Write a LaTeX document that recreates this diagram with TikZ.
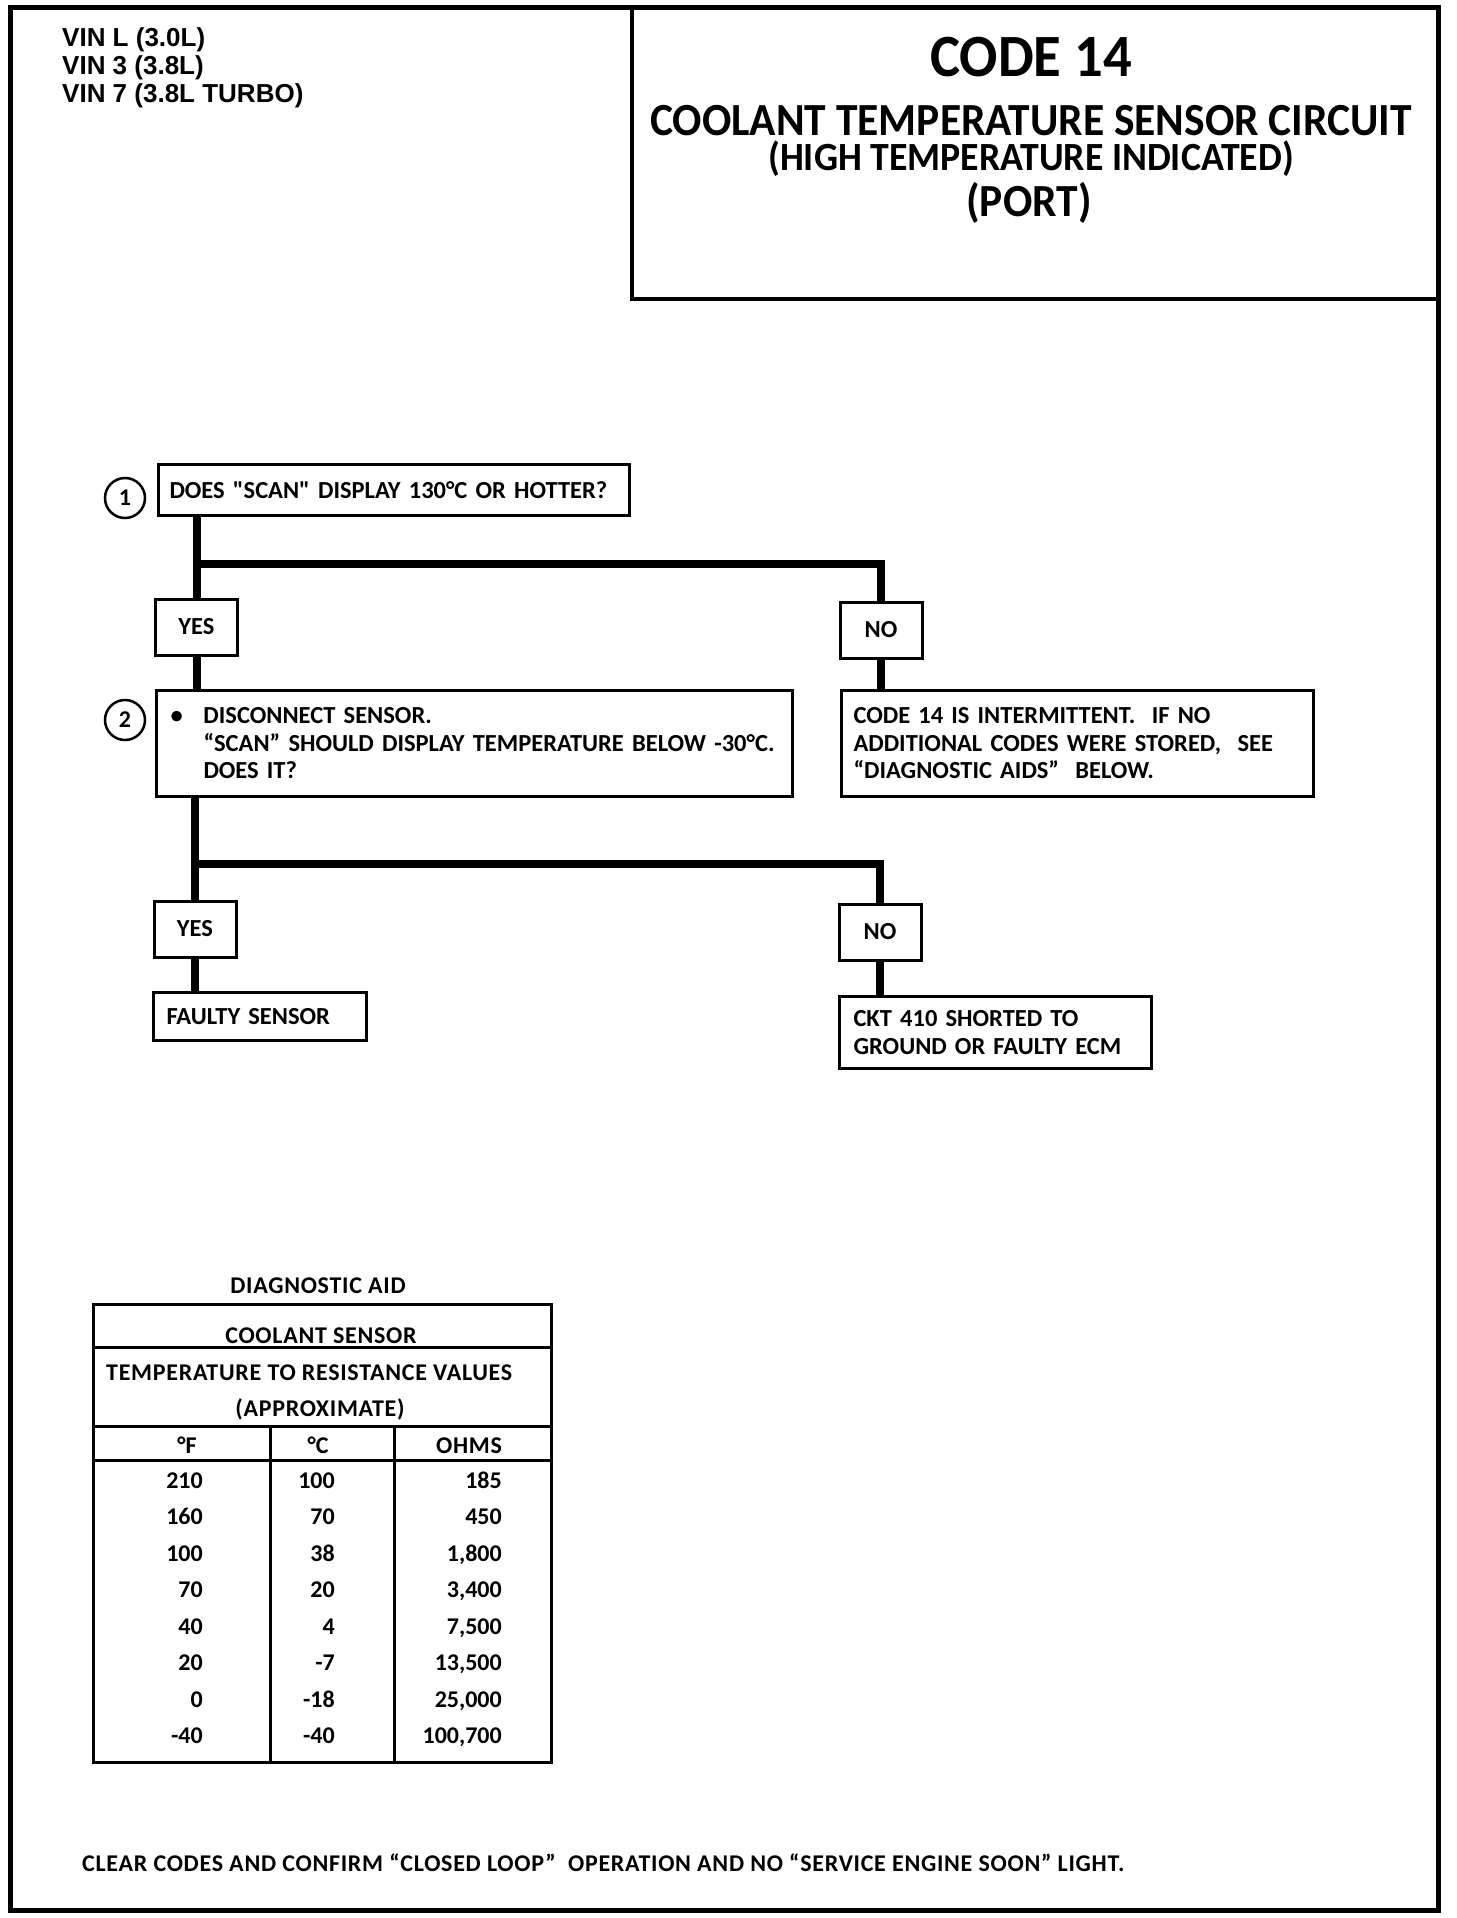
\documentclass[tikz,border=0pt]{standalone}
\usepackage{fontspec}
\setmainfont{Carlito}[Ligatures=TeXOff, WordSpace=0.75]
\newfontfamily\vinfont{Liberation Sans}
\newfontfamily\titlefont[FakeStretch=0.945]{Carlito}
\newfontfamily\spacedfont[LetterSpace=3, Ligatures=TeXOff]{Carlito}

\begin{document}
\begin{tikzpicture}[x=1pt, y=-1pt]

\def\lw{3pt}   % line width of the boxes
\def\ww{8pt}   % line width of the wires
\def\rowsep{36.5} % distance between the rows of the table

\tikzset{box/.style = {draw, line width=\lw, inner ysep=0pt, align=left,
                       font=\bfseries\fontsize{24.5}{27.5}\selectfont}}
\tikzset{answer/.style = {box, align=center, inner xsep=0pt,
                          minimum width=82pt, minimum height=56pt}}
\tikzset{num/.style = {draw, circle, line width=2.5pt, minimum size=40pt,
                       inner sep=0pt, font=\bfseries\fontsize{24}{24}\selectfont}}
\tikzset{wire/.style = {line width=\ww}}
\tikzset{cell/.style = {inner sep=0pt, font=\bfseries\fontsize{24}{24}\selectfont}}
\tikzset{label/.style = {cell, font=\spacedfont\bfseries\fontsize{24}{24}\selectfont}}
\tikzset{vin/.style = {inner sep=0pt, anchor=base west,
                       font=\vinfont\bfseries\fontsize{26}{27}\selectfont}}
\tikzset{heading/.style = {inner sep=0pt, anchor=base,
                           font=\titlefont\bfseries\fontsize{#1}{#1}\selectfont}}

\useasboundingbox (0,0) rectangle (1456,1918);

% page frame and title block
\draw[line width=5pt] (10,8) rectangle (1438,1910);
\draw[line width=4pt] (632,8) rectangle (1438,299);

\node[vin] (vinl)     at (62,47)  {VIN L (3.0L)};
\node[vin] (vinthree) at (62,75)  {VIN 3 (3.8L)};
\node[vin] (vinseven) at (62,103) {VIN 7 (3.8L TURBO)};

\node[heading=60] (code)    at (1031,77)  {CODE 14};
\node[heading=46] (circuit) at (1031,136) {COOLANT TEMPERATURE SENSOR CIRCUIT};
\node[heading=40] (high)    at (1031,171) {(HIGH TEMPERATURE INDICATED)};
\node[heading=46] (port)    at (1029,217) {(PORT)};

% steps of the chart
\node[num] (one) at (125,498) {1};
\node[box, anchor=north west, minimum height=51pt, text width=449pt, inner xsep=11pt]
    (scan) at (157,463) {DOES "SCAN" DISPLAY 130°C OR HOTTER?};

\node[answer] (yesa) at (196.5,627) {YES};
\node[answer] (noa)  at (881,630)   {NO};

\node[num] (two) at (125,720) {2};
\node[box, anchor=north west, minimum height=106pt, text width=608pt, inner xsep=14pt]
    (disc) at (155,689)
    {\makebox[33pt][l]{\textbullet}DISCONNECT SENSOR.\\
     \hspace*{33pt}“SCAN” SHOULD DISPLAY TEMPERATURE BELOW -30°C.\\
     \hspace*{33pt}DOES IT?};
\node[box, anchor=north west, minimum height=106pt, text width=448pt, inner xsep=12pt]
    (intm) at (840,689)
    {CODE 14 IS INTERMITTENT.\ \ IF NO\\
     ADDITIONAL CODES WERE STORED,\ \ SEE\\
     “DIAGNOSTIC AIDS”\ \ BELOW.};

\node[answer] (yesb) at (195,929) {YES};
\node[answer] (nob)  at (880,932) {NO};

\node[box, anchor=north west, minimum height=48pt, text width=187pt, inner xsep=13pt]
    (faulty) at (152,991) {FAULTY SENSOR};
\node[box, anchor=north west, minimum height=72pt, text width=284pt, inner xsep=14pt]
    (ckt) at (838,995) {CKT 410 SHORTED TO\\GROUND OR FAULTY ECM};

% wires between the steps
\coordinate (forka) at (yesa |- 0,564);
\coordinate (forkb) at (yesb |- 0,864);
\draw[wire] (scan.south -| yesa) -- (yesa.north);
\draw[wire] (forka) -| (noa.north);
\draw[wire] (yesa.south) -- (yesa.south |- disc.north);
\draw[wire] (noa.south) -- (noa.south |- intm.north);
\draw[wire] (disc.south -| yesb) -- (yesb.north);
\draw[wire] (forkb) -| (nob.north);
\draw[wire] (yesb.south) -- (yesb.south |- faulty.north);
\draw[wire] (nob.south) -- (nob.south |- ckt.north);

% diagnostic aid table
\node[label, anchor=base] (aid) at (318,1293) {DIAGNOSTIC AID};
\draw[line width=\lw] (93,1304) rectangle (551,1762);
\draw[line width=\lw] (93,1347) -- (551,1347);
\draw[line width=\lw] (93,1426) -- (551,1426);
\draw[line width=\lw] (93,1460) -- (551,1460);
\draw[line width=\lw] (270,1426) -- (270,1762);
\draw[line width=\lw] (394,1426) -- (394,1762);

\node[label, anchor=base] (sensor) at (321,1343) {COOLANT SENSOR};
\node[label, anchor=base west] (values) at (106,1380) {TEMPERATURE TO RESISTANCE VALUES};
\node[label, anchor=base] (approx) at (320,1416) {(APPROXIMATE)};
\node[cell, anchor=base] (degf) at (187,1453) {°F};
\node[cell, anchor=base] (degc) at (318,1453) {°C};
\node[label, anchor=base] (ohms) at (469,1453) {OHMS};

\foreach \f/\c/\r [count=\i] in {210/100/185, 160/70/450, 100/38/{1,800},
    70/20/{3,400}, 40/4/{7,500}, 20/-7/{13,500}, 0/-18/{25,000}, -40/-40/{100,700}}
{
  \pgfmathsetmacro\yrow{1488+\rowsep*(\i-1)}
  \node[cell, anchor=base east] (f\i) at (203,\yrow) {\f};
  \node[cell, anchor=base east] (c\i) at (335,\yrow) {\c};
  \node[cell, anchor=base east] (r\i) at (502,\yrow) {\r};
}

% closing note
\node[inner sep=0pt, anchor=base west, font=\spacedfont\bfseries\fontsize{24}{24}\selectfont]
    (clear) at (82,1871)
    {CLEAR CODES AND CONFIRM “CLOSED LOOP”\ \ OPERATION AND NO “SERVICE ENGINE SOON” LIGHT.};

\end{tikzpicture}
\end{document}
